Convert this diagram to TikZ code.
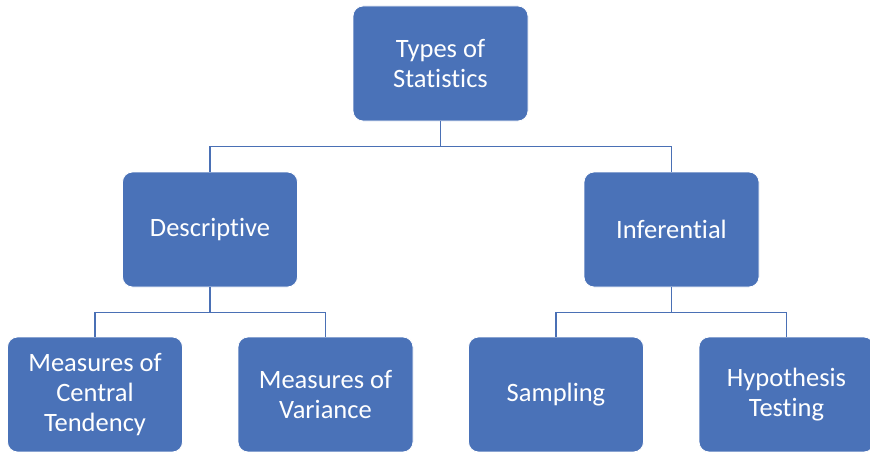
\documentclass[tikz,border=0pt]{standalone}
\usepackage{fontspec}
\setmainfont{Carlito}[Ligatures=NoCommon]
\definecolor{boxblue}{HTML}{4A72B8}
\definecolor{linkblue}{HTML}{4A70B5}
\begin{document}
\begin{tikzpicture}[x=1pt,y=-1pt,
  box/.style={rectangle, rounded corners=10pt, fill=boxblue, draw=white, line width=0.8pt,
    minimum width=175pt, minimum height=115pt, inner sep=0pt, align=center,
    text=white, font=\fontsize{26.5pt}{30pt}\selectfont},
  link/.style={draw=linkblue, line width=1.8pt}]
\useasboundingbox (0,0) rectangle (870,452);
\clip (0,0) rectangle (870,452);
\fill[white] (0,0) rectangle (870,452);
% hierarchy of boxes
\node[box] (root) at (440.5,63.5) {Types of\\Statistics};
\node[box] (desc) at (210,229.5) {Descriptive};
\node[box] (inf)  at (671.5,229.5) {Inferential};
\node[box] (cent) at (95,394.5) {Measures of\\Central\\Tendency};
\node[box] (var)  at (325.5,394.5) {Measures of\\Variance};
\node[box] (samp) at (556,394.5) {Sampling};
\node[box] (hyp)  at (786.5,394.5) {Hypothesis\\Testing};
% elbow connectors
\draw[link] (root.south) -- ++(0,25) -| (desc.north);
\draw[link] (root.south) -- ++(0,25) -| (inf.north);
\draw[link] (desc.south) -- ++(0,25) -| (cent.north);
\draw[link] (desc.south) -- ++(0,25) -| (var.north);
\draw[link] (inf.south) -- ++(0,25) -| (samp.north);
\draw[link] (inf.south) -- ++(0,25) -| (hyp.north);
\end{tikzpicture}
\end{document}
